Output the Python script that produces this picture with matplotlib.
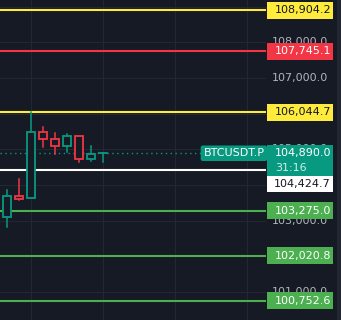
import matplotlib.pyplot as plt
from matplotlib.patches import Rectangle

# candles (open, high, low, close)
opens = [103103, 103692, 103627, 105478, 105282, 105085, 105366, 104721, 104890]
highs = [103860, 104168, 106047, 105635, 105467, 105439, 105366, 105094, 104890]
lows = [102822, 103588, 103627, 105074, 104861, 104917, 104653, 104681, 104653]
closes = [103692, 103621, 105478, 105282, 105085, 105366, 104721, 104869, 104890]

# horizontal levels and their tags
levels = [108904.2, 107745.1, 106044.7, 104424.7, 103275.0, 102020.8, 100752.6]
level_colors = ['#ffeb3b', '#f23645', '#ffeb3b', '#ffffff', '#4caf50', '#4caf50', '#4caf50']
level_text = ['#131722', '#ffffff', '#131722', '#131722', '#ffffff', '#ffffff', '#ffffff']
level_labels = ['108,904.2', '107,745.1', '106,044.7', '104,424.7', '103,275.0', '102,020.8', '100,752.6']

last_price = 104890.0
last_label = '104,890.0'
countdown = '31:16'
symbol = 'BTCUSDT.P'

grid_values = [101000, 102000, 103000, 104000, 105000, 106000, 107000, 108000, 109000]
# only the scale labels that peek out from under the tags
tick_values = [101000, 103000, 105000, 107000, 108000]
tick_labels = ['101,000.0', '103,000.0', '105,000.0', '107,000.0', '108,000.0']

BG = '#161a25'
GRID = '#232733'
UP = '#089981'
DOWN = '#f23645'

ymin, ymax = 100214, 109188
px = (ymax - ymin) / 320.0  # price per pixel

fig = plt.figure(figsize=(3.41, 3.20), dpi=100)
fig.patch.set_facecolor(BG)

ax = fig.add_axes([0, 0, 266 / 341, 1])
ax.set_facecolor(BG)
ax.set_xlim(-0.583, 21.58)
ax.set_ylim(ymin, ymax)
for s in ax.spines.values():
    s.set_visible(False)
ax.set_xticks([])
ax.set_yticks([])

# grid
for gx in [2, 8, 14, 20]:
    ax.axvline(gx, color=GRID, lw=0.8, zorder=0)
for gy in grid_values:
    ax.axhline(gy, color=GRID, lw=0.8, zorder=0)

# candles
w = 0.62
for i, (o, h, l, c) in enumerate(zip(opens, highs, lows, closes)):
    col = UP if c >= o else DOWN
    top, bot = max(o, c), min(o, c)
    if top - bot < 1:
        ax.plot([i - w / 2, i + w / 2], [o, o], color=col, lw=1.3, zorder=3)
        ax.plot([i, i], [l, h], color=col, lw=1.1, zorder=3)
        continue
    if h > top:
        ax.plot([i, i], [top, h], color=col, lw=1.1, zorder=3)
    if l < bot:
        ax.plot([i, i], [l, bot], color=col, lw=1.1, zorder=3)
    ax.add_patch(Rectangle((i - w / 2, bot), w, top - bot, facecolor=BG,
                           edgecolor=col, lw=1.3, zorder=4))

# level lines
for lv, lc in zip(levels, level_colors):
    ax.axhline(lv, color=lc, lw=1.5, zorder=2)

# last price dotted line + symbol tag
ax.axhline(last_price, color=UP, lw=1.0, ls=(0, (1, 2.5)), zorder=1)
ax.text(21.45, last_price, symbol, color='white', fontsize=8, ha='right', va='center',
        zorder=6, bbox=dict(boxstyle='round,pad=0.25,rounding_size=0.2', fc=UP, ec='none'))

# price scale
ax2 = fig.add_axes([266 / 341, 0, 75 / 341, 1])
ax2.set_facecolor(BG)
ax2.set_xlim(0, 75)
ax2.set_ylim(ymin, ymax)
ax2.axis('off')
ax2.add_patch(Rectangle((71, ymin), 4, ymax - ymin, fc='#222631', lw=0, zorder=0))

for tv, tl in zip(tick_values, tick_labels):
    ax2.text(62, tv, tl, color='#b2b5be', fontsize=8, ha='right', va='center', zorder=1)


def tag(y, txt, fc, tc, h=17):
    ax2.add_patch(Rectangle((1, y - h / 2 * px), 66, h * px, fc=fc, lw=0, zorder=3))
    ax2.text(65, y, txt, color=tc, fontsize=8, ha='right', va='center', zorder=4)


for lv, lc, tc, lb in zip(levels, level_colors, level_text, level_labels):
    if lb == '104,424.7':
        tag(lv - 14 * px, lb, lc, tc, h=16)
    else:
        tag(lv, lb, lc, tc)

# last price tag (two lines)
ax2.add_patch(Rectangle((1, last_price - 23 * px), 66, 31 * px, fc=UP, lw=0, zorder=3))
ax2.text(65, last_price, last_label, color='white', fontsize=8, ha='right', va='center', zorder=4)
ax2.text(9, last_price - 15 * px, countdown, color='#cfeee7', fontsize=8, ha='left', va='center', zorder=4)

fig.savefig('out.png', dpi=100, facecolor=BG)
